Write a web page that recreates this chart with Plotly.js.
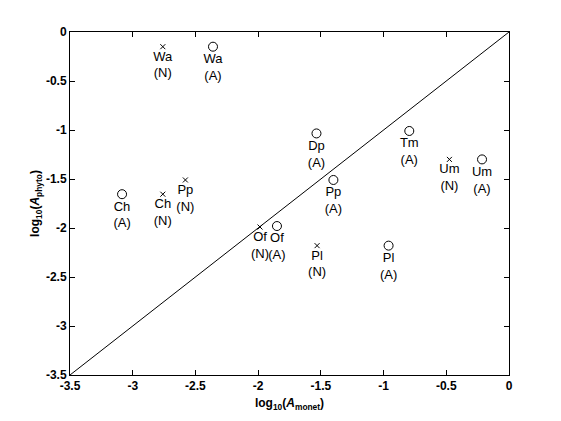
<!DOCTYPE html>
<html><head><meta charset="utf-8">
<script src="https://cdn.plot.ly/plotly-3.0.1.min.js"></script>
<style>html,body{margin:0;padding:0;background:#fff}</style>
</head><body><div id="chart" style="width:561px;height:421px"></div>
<script>
// N series (x markers)
var nNames = ["Wa", "Ch", "Pp", "Of", "Pl", "Um"];
var nX = [-2.76, -2.76, -2.58, -1.985, -1.53, -0.475];
var nY = [-0.15, -1.655, -1.51, -1.99, -2.18, -1.30];
// A series (circle markers)
var aNames = ["Wa", "Ch", "Of", "Dp", "Pp", "Tm", "Pl", "Um"];
var aX = [-2.36, -3.085, -1.85, -1.535, -1.40, -0.795, -0.96, -0.215];
var aY = [-0.15, -1.655, -1.98, -1.035, -1.51, -1.01, -2.18, -1.30];
// 1:1 line
var lineX = [-3.5, 0];
var lineY = [-3.5, 0];
var xTicks = [-3.5, -3, -2.5, -2, -1.5, -1, -0.5, 0];
var yTicks = [-3.5, -3, -2.5, -2, -1.5, -1, -0.5, 0];

var labFont = {family: "Liberation Sans, Arial, sans-serif", size: 13, color: "#000"};
var traces = [
  {x: lineX, y: lineY, mode: "lines", line: {color: "#000", width: 1}, hoverinfo: "skip"},
  {x: nX, y: nY, mode: "markers+text", text: nNames.map(function(n){return n + "<br>(N)";}),
   textposition: "bottom center", textfont: labFont,
   marker: {symbol: "x-thin-open", size: 5, color: "#000", line: {color: "#000", width: 1}}},
  {x: aX, y: aY, mode: "markers+text", text: aNames.map(function(n){return n + "<br>(A)";}),
   textposition: "bottom center", textfont: labFont,
   marker: {symbol: "circle-open", size: 9, color: "#000", line: {color: "#000", width: 1}}}
];
var tickFont = {family: "Liberation Sans, Arial, sans-serif", size: 12, color: "#000", weight: "bold"};
var axBase = {
  showgrid: false, zeroline: false, showline: true, linecolor: "#000", linewidth: 1,
  mirror: "ticks", ticks: "inside", ticklen: 5, tickcolor: "#000", tickwidth: 1,
  tickmode: "array", tickfont: tickFont
};
var layout = {
  width: 561, height: 421,
  margin: {l: 70, r: 52, t: 32, b: 46},
  paper_bgcolor: "#fff", plot_bgcolor: "#fff",
  showlegend: false,
  xaxis: Object.assign({}, axBase, {range: [-3.5, 0], tickvals: xTicks, ticktext: xTicks.map(String),
    title: {text: "<b>log<sub>10</sub>(<i>A</i><sub>monet</sub>)</b>", font: {family: "Liberation Sans, Arial, sans-serif", size: 12, color: "#000"}, standoff: 6}}),
  yaxis: Object.assign({}, axBase, {range: [-3.5, 0], tickvals: yTicks, ticktext: yTicks.map(String),
    title: {text: "<b>log<sub>10</sub>(<i>A</i><sub>phyto</sub>)</b>", font: {family: "Liberation Sans, Arial, sans-serif", size: 12, color: "#000"}, standoff: 3}})
};
Plotly.newPlot("chart", traces, layout, {displayModeBar: false, staticPlot: true});
</script></body></html>
